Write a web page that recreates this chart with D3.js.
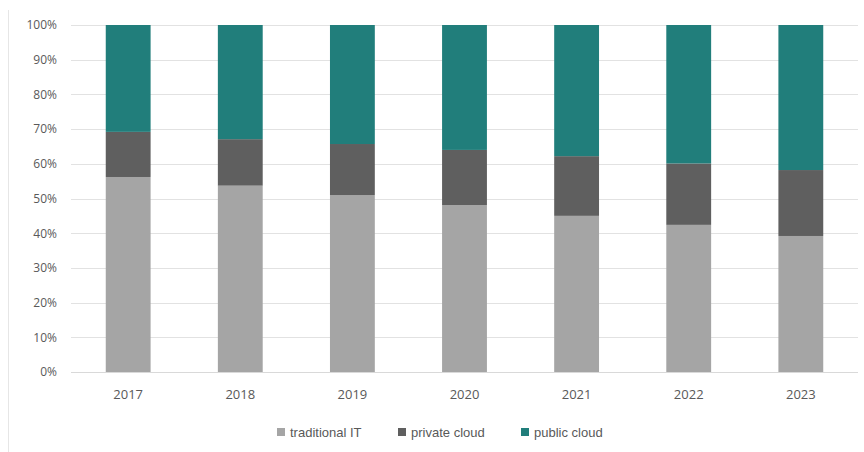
<!DOCTYPE html>
<html>
<head>
<meta charset="utf-8">
<script src="https://cdn.jsdelivr.net/npm/d3@7"></script>
<style>
  html, body { margin: 0; padding: 0; background: #fff; }
  svg { display: block; }
</style>
</head>
<body>
<svg id="chart" width="864" height="452"></svg>
<script>
// Share of workloads by deployment model, per year (percent)
const years = ["2017", "2018", "2019", "2020", "2021", "2022", "2023"];
const traditionalIT = [56.2, 53.7, 51.0, 48.1, 45.0, 42.4, 39.2];
const privateCloud  = [13.0, 13.4, 14.7, 15.9, 17.2, 17.7, 19.0];
const publicCloud   = [30.8, 32.9, 34.3, 36.0, 37.8, 39.9, 41.8];
const seriesNames = ["traditional IT", "private cloud", "public cloud"];
const seriesColors = ["#a5a5a5", "#5f5f5f", "#217e7b"];
const yTicks = [0, 10, 20, 30, 40, 50, 60, 70, 80, 90, 100];

const svg = d3.select("#chart");
const margin = { left: 71, right: 6, top: 25, bottom: 80 };
const W = 864, H = 452;

// faint frame edge on the left
svg.append("line")
  .attr("x1", 8.5).attr("x2", 8.5).attr("y1", 10).attr("y2", 452)
  .attr("stroke", "#e6e6e6").attr("stroke-width", 1);

const x = d3.scaleBand()
  .domain(years)
  .range([margin.left, W - margin.right])
  .paddingInner(0.6)
  .paddingOuter(0.31);

const y = d3.scaleLinear()
  .domain([0, 100])
  .range([372, margin.top]);

// gridlines
svg.append("g")
  .selectAll("line")
  .data(yTicks)
  .join("line")
  .attr("x1", margin.left).attr("x2", W - margin.right)
  .attr("y1", d => Math.round(y(d)) + 0.5)
  .attr("y2", d => Math.round(y(d)) + 0.5)
  .attr("stroke", d => d === 0 ? "#d9d9d9" : "#e2e2e2")
  .attr("stroke-width", 1);

// y axis labels
const yAxis = d3.axisLeft(y)
  .tickValues(yTicks)
  .tickFormat(d => d + "%")
  .tickSize(0)
  .tickPadding(0);
const gy = svg.append("g")
  .attr("transform", `translate(57,0)`)
  .call(yAxis);
gy.select(".domain").remove();
gy.selectAll("text")
  .attr("font-family", "'Open Sans', sans-serif")
  .attr("font-size", 12)
  .attr("fill", "#595959");

// stacked data
const rows = years.map((yr, i) => ({
  year: yr,
  "traditional IT": traditionalIT[i],
  "private cloud": privateCloud[i],
  "public cloud": publicCloud[i]
}));
const stack = d3.stack().keys(seriesNames);
const stacked = stack(rows);

svg.append("g")
  .selectAll("g")
  .data(stacked)
  .join("g")
  .attr("fill", (d, i) => seriesColors[i])
  .selectAll("rect")
  .data(d => d)
  .join("rect")
  .attr("x", d => x(d.data.year))
  .attr("width", x.bandwidth())
  .attr("y", d => y(Math.min(d[1], 100)))
  .attr("height", d => y(d[0]) - y(Math.min(d[1], 100)));

// x axis labels
const xAxis = d3.axisBottom(x).tickSize(0).tickPadding(0);
const gx = svg.append("g")
  .attr("transform", `translate(0,390)`)
  .call(xAxis);
gx.select(".domain").remove();
gx.selectAll("text")
  .attr("font-family", "'Open Sans', sans-serif")
  .attr("font-size", 13)
  .attr("fill", "#595959");

// legend
const legendX = [277, 398, 521];
const legend = svg.append("g");
seriesNames.forEach((name, i) => {
  legend.append("rect")
    .attr("x", legendX[i]).attr("y", 428)
    .attr("width", 8).attr("height", 8)
    .attr("fill", seriesColors[i]);
  legend.append("text")
    .attr("x", legendX[i] + 13).attr("y", 432)
    .attr("dy", "0.35em")
    .attr("font-family", "'Liberation Sans', Arial, sans-serif")
    .attr("font-size", 13)
    .attr("fill", "#595959")
    .text(name);
});
</script>
</body>
</html>
